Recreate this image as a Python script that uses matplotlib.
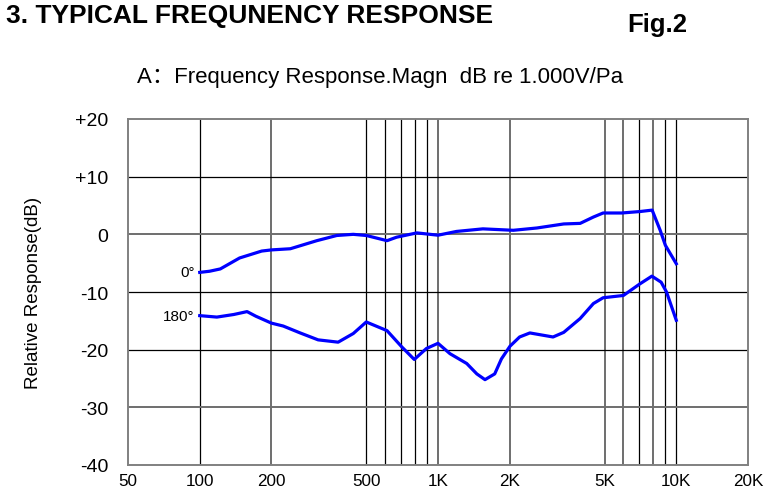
import matplotlib.pyplot as plt
from matplotlib.ticker import FixedLocator, NullLocator

# 0 degree response
freq_0 = [100, 110, 122, 147, 182, 200, 240, 310, 376, 441, 500, 611, 670, 815,
          1000, 1195, 1543, 2070, 2600, 3370, 3950, 4490, 4930, 5900, 7030, 7920,
          8560, 9000, 10000]
resp_0 = [-6.6, -6.4, -6.0, -4.1, -2.9, -2.7, -2.5, -1.1, -0.2, 0.0, -0.2, -1.1,
          -0.5, 0.25, -0.15, 0.5, 0.95, 0.7, 1.1, 1.8, 1.9, 3.0, 3.7, 3.7, 3.95,
          4.2, 0.7, -1.9, -5.1]

# 180 degree response
freq_180 = [100, 118, 139, 158, 172, 200, 224, 264, 314, 381, 441, 500, 611, 704,
            795, 894, 1000, 1123, 1320, 1455, 1575, 1730, 1846, 2005, 2200, 2430,
            3040, 3370, 3950, 4490, 4930, 6000, 7030, 7900, 8640, 9100, 10000]
resp_180 = [-14.1, -14.35, -13.9, -13.4, -14.2, -15.4, -15.9, -17.1, -18.3, -18.7,
            -17.2, -15.2, -16.7, -19.5, -21.7, -19.8, -18.9, -20.7, -22.4, -24.2,
            -25.2, -24.2, -21.6, -19.4, -17.8, -17.1, -17.8, -17.0, -14.6, -12.0,
            -11.0, -10.6, -8.6, -7.25, -8.3, -10.0, -14.9]

x_ticks = [50, 100, 200, 500, 1000, 2000, 5000, 10000, 20000]
x_labels = ["50", "100", "200", "500", "1K", "2K", "5K", "10K", "20K"]
y_ticks = [-40, -30, -20, -10, 0, 10, 20]
y_labels = ["-40", "-30", "-20", "-10", "0", "+10", "+20"]

v_grid = [100, 200, 500, 600, 700, 800, 900, 1000, 2000, 5000, 6000, 7000,
          8000, 9000, 10000]
v_dark = [True, False, True, True, True, True, True, False, False, False, False,
          True, False, True, True]
h_grid = [10, 0, -10, -20, -30]
h_dark = [True, False, True, True, False]

plt.rcParams["font.family"] = ["Liberation Sans", "DejaVu Sans"]

fig = plt.figure(figsize=(7.73, 4.89), dpi=100)
ax = fig.add_axes([128 / 773, 23 / 489, 620 / 773, 346 / 489])

for f, dark in zip(v_grid, v_dark):
    if dark:
        ax.axvline(f, color="black", lw=0.9, zorder=1)
    else:
        ax.axvline(f, color="#6e6e6e", lw=1.4, zorder=1)
for v, dark in zip(h_grid, h_dark):
    if dark:
        ax.axhline(v, color="black", lw=0.9, zorder=1)
    else:
        ax.axhline(v, color="#6e6e6e", lw=1.4, zorder=1)

ax.plot(freq_0, resp_0, color="#0000ff", lw=2.3, zorder=3,
        solid_joinstyle="round")
ax.plot(freq_180, resp_180, color="#0000ff", lw=2.3, zorder=3,
        solid_joinstyle="round")

ax.set_xscale("log")
ax.set_xlim(50, 20000)
ax.set_ylim(-40, 20)
ax.xaxis.set_major_locator(FixedLocator(x_ticks))
ax.xaxis.set_minor_locator(NullLocator())
ax.set_xticklabels(x_labels, fontsize=12.3)
ax.set_yticks(y_ticks)
ax.set_yticklabels(y_labels, fontsize=14)
ax.tick_params(axis="x", length=0, pad=6)
ax.tick_params(axis="y", length=0, pad=14)
for spine in ax.spines.values():
    spine.set_color("#808080")
    spine.set_linewidth(1.4)

ax.set_ylabel("Relative Response(dB)", fontsize=13.5, labelpad=24)

ax.text(95, resp_0[0], "0°", fontsize=11, ha="right", va="center")
ax.text(95, resp_180[0], "180°", fontsize=11, ha="right", va="center")

fig.text(6 / 773, 1 - 22.5 / 489, "3. TYPICAL FREQUNENCY RESPONSE",
         fontsize=19, fontweight="bold", va="baseline")
fig.text(627 / 773, 1 - 32 / 489, "Fig.2", fontsize=18.5, fontweight="bold",
         va="baseline")
fig.text(137 / 773, 1 - 82.7 / 489, "A：Frequency Response.Magn  dB re 1.000V/Pa",
         fontsize=16, va="baseline",
         family=["Liberation Sans", "Noto Sans CJK SC"])

fig.savefig("out.png", dpi=100)
